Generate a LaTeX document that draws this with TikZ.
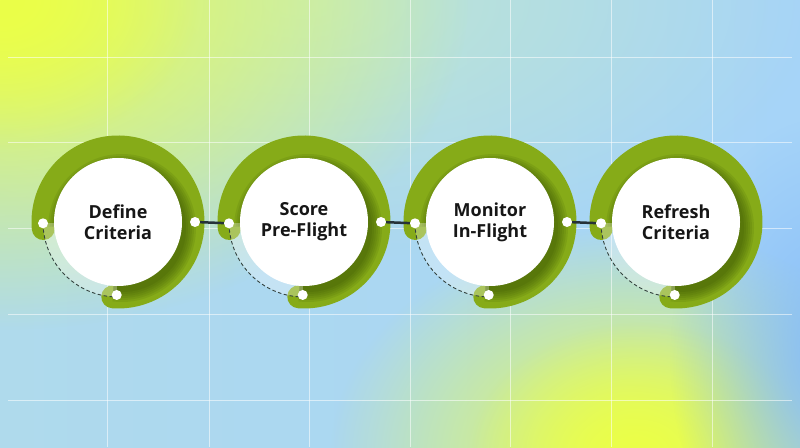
\documentclass[tikz,border=0pt]{standalone}
\usepackage{fontspec}
\newfontfamily\labelfont{Open Sans}
\usetikzlibrary{fadings,calc}
\tikzfading[name=softfade, inner color=transparent!0, outer color=transparent!100]
\definecolor{bgL}{HTML}{AFDAEC}
\definecolor{bgR}{HTML}{A6D4F8}
\definecolor{tealtint}{HTML}{BEE6D2}
\definecolor{yel}{HTML}{EBFF48}
\definecolor{blu}{HTML}{86BCF8}
\definecolor{bandgreen}{HTML}{86AB18}
\definecolor{shadowc}{HTML}{2A4200}
\definecolor{connc}{HTML}{263238}
\definecolor{dashc}{HTML}{34433F}
\definecolor{textc}{HTML}{161616}
\tikzset{
  gridline/.style={white, opacity=0.55, line width=0.8pt},
  band/.style={bandgreen, line width=23pt, line cap=round},
  whitecirc/.style={circle, fill=white, minimum size=128pt, inner sep=0pt, align=center,
    text=textc, font=\labelfont\bfseries\fontsize{18}{21}\selectfont},
  dotnode/.style={circle, fill=white, minimum size=10pt, inner sep=0pt},
  dashline/.style={dashc, line width=0.9pt, dash pattern=on 3.5pt off 2.5pt},
  conn/.style={connc, line width=2.5pt},
}
\begin{document}
\begin{tikzpicture}[x=1pt,y=1pt]
\useasboundingbox (0,0) rectangle (800,447);
\begin{scope}
  \clip (0,0) rectangle (800,447);
  \fill[left color=bgL, right color=bgR] (0,0) rectangle (800,447);
  \fill[tealtint, path fading=softfade] (300,447) ellipse (520 and 260);
  \fill[yel, path fading=softfade] (0,447) ellipse (470 and 330);
  \fill[yel, path fading=softfade] (0,447) ellipse (200 and 150);
  \fill[yel, path fading=softfade] (630,-10) ellipse (300 and 230);
  \fill[yel, path fading=softfade] (640,-5) ellipse (170 and 130);
  \fill[blu, path fading=softfade] (830,90) ellipse (160 and 240);
  \foreach \x in {107,209,309,410,510,611,712}
    \draw[gridline] (\x,0) -- (\x,447);
  \foreach \y in {390,305,219,133,47}
    \draw[gridline] (8,\y) -- (792,\y);
\end{scope}

\foreach \i/\cx/\txt in {1/118/{Define\\Criteria}, 2/304/{Score\\Pre-Flight}, 3/490/{Monitor\\In-Flight}, 4/676/{Refresh\\Criteria}} {
  \coordinate (c\i) at (\cx,225);
  \coordinate (pl\i) at ($(c\i)+(181:75)$);
  \coordinate (pr\i) at ($(c\i)+(0:77)$);
  \coordinate (pb\i) at ($(c\i)+(-91:73)$);
  % green band
  \draw[band] ($(c\i)+(185:75)$) arc[start angle=185, end angle=-94, radius=75];
  % shadow of the white disc on the band
  \begin{scope}
    \clip (c\i) -- ($(c\i)+(184:95)$) arc[start angle=184, end angle=-94, radius=95] -- cycle;
    \foreach \r in {64,66,68,70,72,74}
      \fill[shadowc, opacity=0.1] ($(c\i)+(4,-6)$) circle (\r);
  \end{scope}
  % pale inner area
  \fill[white, opacity=0.3] (c\i) -- (pl\i) arc[start angle=181, end angle=269, radius=75] -- cycle;
  % white disc
  \node[whitecirc] (n\i) at (c\i) {\txt};
  % dashed arc
  \draw[dashline] (pl\i) arc[start angle=181, end angle=269, radius=75];
  % dots
  \node[dotnode] (l\i) at (pl\i) {};
  \node[dotnode] (b\i) at (pb\i) {};
}
\node[dotnode] (r1) at (pr1) {};
\node[dotnode] (r2) at (pr2) {};
\node[dotnode] (r3) at (pr3) {};
\draw[conn] (r1) -- (l2);
\draw[conn] (r2) -- (l3);
\draw[conn] (r3) -- (l4);
\end{tikzpicture}
\end{document}
